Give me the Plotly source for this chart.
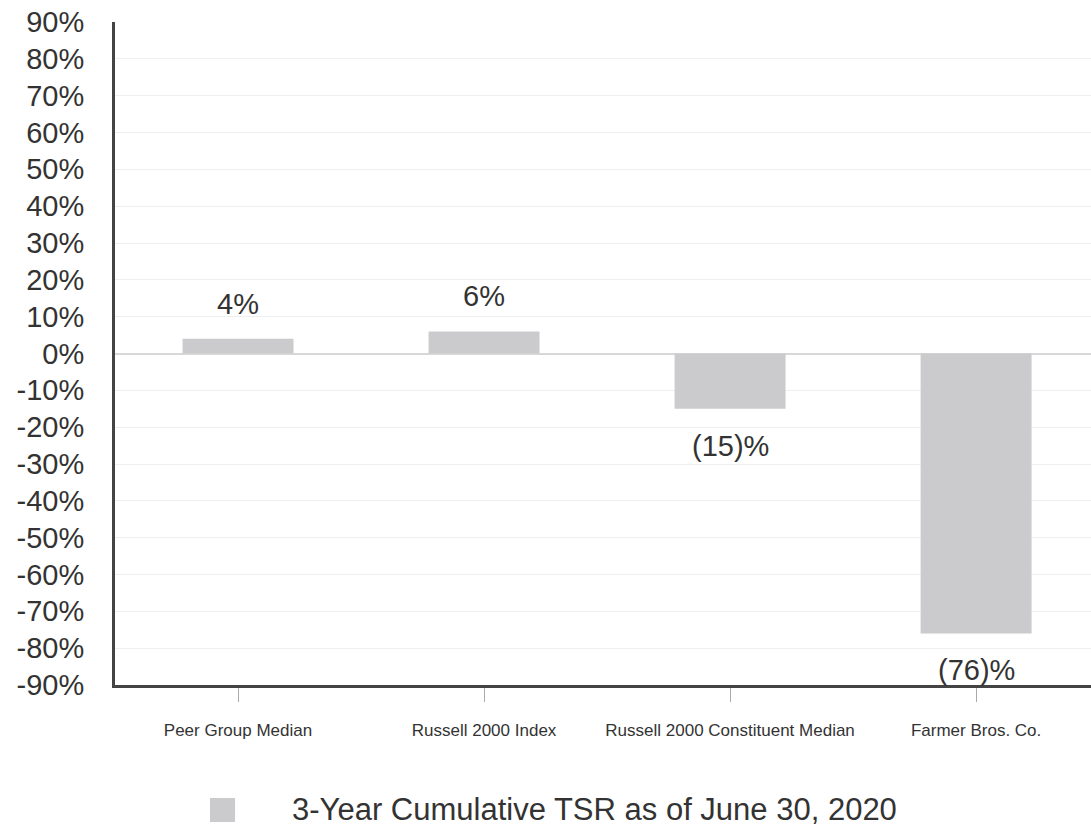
import plotly.graph_objects as go

categories = ["Peer Group Median", "Russell 2000 Index",
              "Russell 2000 Constituent Median", "Farmer Bros. Co."]
tsr_values = [4, 6, -15, -76]
value_labels = ["4%", "6%", "(15)%", "(76)%"]
series_name = "3-Year Cumulative TSR as of June 30, 2020"
y_tick_vals = list(range(-90, 91, 10))
y_tick_text = [f"{v}%" for v in y_tick_vals]

FONT = "Liberation Sans, Arial, sans-serif"
BAR_COLOR = "#cbcbcd"
TEXT_COLOR = "#333333"

fig = go.Figure()
fig.add_trace(go.Bar(
    x=categories, y=tsr_values, name=series_name,
    marker=dict(color=BAR_COLOR, line=dict(width=0)),
    showlegend=False,
))

annotations = []
for cat, val, lab in zip(categories, tsr_values, value_labels):
    annotations.append(dict(
        x=cat, y=val, xref="x", yref="y", text=lab, showarrow=False,
        yanchor="middle", yshift=35 if val >= 0 else -37,
        font=dict(family=FONT, size=29, color=TEXT_COLOR),
    ))

# legend drawn manually (larger swatch than plotly's default legend icon)
annotations.append(dict(
    x=0.179, y=-0.1885, xref="paper", yref="paper", text=series_name,
    showarrow=False, xanchor="left", yanchor="middle",
    font=dict(family=FONT, size=31, color=TEXT_COLOR),
))
shapes = [dict(
    type="rect", xref="paper", yref="paper",
    x0=0.0973, x1=0.123, y0=-0.2066, y1=-0.1704,
    fillcolor=BAR_COLOR, line=dict(width=0),
)]

fig.update_layout(
    width=1091, height=830,
    margin=dict(l=115, r=0, t=22, b=145),
    paper_bgcolor="white", plot_bgcolor="white",
    bargap=0.549,
    font=dict(family=FONT, color=TEXT_COLOR),
    annotations=annotations, shapes=shapes,
    showlegend=False,
)
fig.update_yaxes(
    range=[-90, 90], tickvals=y_tick_vals, ticktext=y_tick_text,
    tickfont=dict(family=FONT, size=29, color=TEXT_COLOR),
    showgrid=True, gridcolor="#efefef", gridwidth=1,
    zeroline=True, zerolinecolor="#d8d8d8", zerolinewidth=2,
    showline=True, linecolor="#444444", linewidth=3,
    ticks="", ticklabelstandoff=22,
)
fig.update_xaxes(
    range=[-0.5, 3.467],
    tickfont=dict(family=FONT, size=17, color=TEXT_COLOR),
    showline=True, linecolor="#444444", linewidth=3,
    ticks="outside", ticklen=14, tickcolor="#aaaaaa", tickwidth=1,
    ticklabelstandoff=14,
    showgrid=False,
)

fig.write_html("out.html")
